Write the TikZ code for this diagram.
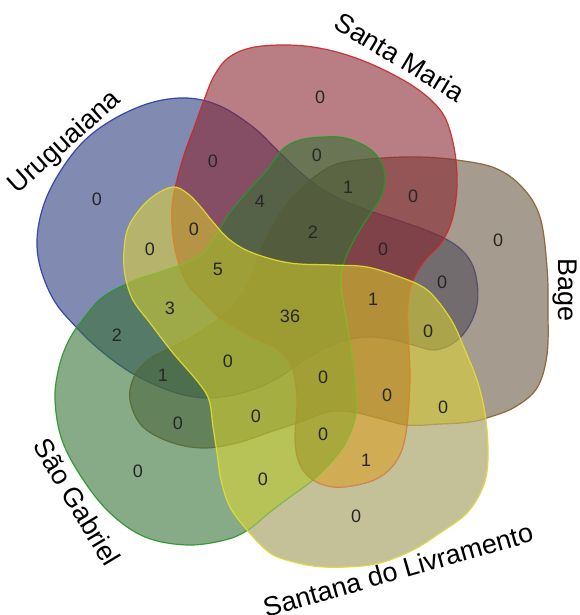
\documentclass[tikz,border=0pt]{standalone}
\usepackage{fontspec}
\setmainfont{Liberation Sans}
\definecolor{ufill}{RGB}{45,60,125}
\definecolor{bfill}{RGB}{105,88,67}
\definecolor{mfill}{RGB}{138,38,50}
\definecolor{gfill}{RGB}{55,113,55}
\definecolor{lfill}{RGB}{232,220,40}
\definecolor{lonly}{RGB}{196,193,152}
\definecolor{uedge}{RGB}{40,60,170}
\definecolor{bedge}{RGB}{140,95,45}
\definecolor{medge}{RGB}{205,40,40}
\definecolor{gedge}{RGB}{40,150,40}
\definecolor{ledge}{RGB}{228,222,50}
\def\Upath{plot[smooth cycle, tension=0.6] coordinates {
(77,328) (55,302) (41,270) (37,240) (43,207) (58,175) (82,143) (112,120) (150,103) (187,98) (220,106) (253,127) (277,150) (300,172) (322,189) (345,201) (370,211) (400,221) (433,233) (457,246) (471,262) (477,282) (477,305) (469,326) (455,342) (435,350) (413,345) (390,339) (365,337) (343,341) (320,351) (300,363) (278,378) (252,390) (222,397) (195,397) (165,389) (130,372) (100,350)}}
\def\Bpath{plot[smooth cycle, tension=0.6] coordinates {
(340,163) (317,175) (300,190) (284,207) (268,235) (257,260) (249,282) (237,301) (220,318) (195,335) (170,348) (148,360) (134,377) (130,400) (142,426) (170,442) (203,448) (237,443) (270,432) (300,422) (328,412) (352,412) (378,418) (407,425) (440,424) (470,422) (490,417) (515,407) (537,388) (547,355) (548,310) (547,267) (540,217) (522,187) (495,168) (457,160) (420,157) (383,158)}}
\def\Mpath{plot[smooth cycle, tension=0.6] coordinates {
(280,45) (250,48) (228,58) (214,76) (204,100) (195,125) (185,152) (177,180) (172,207) (173,237) (179,265) (188,285) (203,301) (220,318) (250,336) (278,350) (292,368) (297,400) (295,440) (300,465) (313,480) (333,487) (357,485) (380,477) (397,460) (406,433) (410,380) (408,330) (408,305) (413,280) (425,260) (441,243) (452,220) (457,187) (455,153) (447,122) (435,104) (413,86) (380,68) (347,55) (313,47)}}
\def\Gpath{plot[smooth cycle, tension=0.6] coordinates {
(323,137) (345,138) (367,147) (380,160) (385,177) (381,197) (368,217) (354,240) (344,263) (341,285) (348,330) (355,380) (356,413) (347,440) (333,460) (313,480) (290,497) (270,512) (248,530) (225,540) (187,545) (145,537) (110,513) (82,478) (62,440) (55,400) (59,367) (69,340) (84,318) (103,297) (133,281) (160,272) (193,260) (207,249) (220,228) (231,211) (248,191) (267,170) (283,149) (300,140)}}
\def\Lpath{plot[smooth cycle, tension=0.6] coordinates {
(173,187) (187,193) (200,206) (213,222) (230,240) (253,253) (290,263) (333,265) (367,267) (400,277) (423,287) (437,300) (453,323) (465,350) (478,383) (486,420) (488,460) (483,487) (467,513) (440,533) (413,550) (380,563) (347,567) (313,566) (280,558) (265,549) (247,530) (230,507) (221,480) (217,453) (213,427) (209,400) (198,382) (173,353) (150,323) (133,300) (125,275) (124,250) (128,228) (140,209) (155,195)}}
\begin{document}
\begin{tikzpicture}[x=1pt,y=-1pt,
  setshape/.style={fill=#1, fill opacity=0.6, draw opacity=0.9, line width=1.2pt},
  dimedge/.style={draw=#1, draw opacity=0.45, line width=1.2pt},
  num/.style={font=\fontsize{18}{18}\selectfont, text=black!85, inner sep=0pt},
  lab/.style={font=\fontsize{27}{27}\selectfont, inner sep=0pt}]
\useasboundingbox (0,0) rectangle (579,615);
% Uruguaiana (blue)
\path[setshape=ufill, draw=uedge] \Upath;
% Bage (brown)
\path[setshape=bfill, draw=bedge] \Bpath;
% Santa Maria (red)
\path[setshape=mfill, draw=medge] \Mpath;
% Sao Gabriel (green)
\path[setshape=gfill, draw=gedge] \Gpath;
% Santana do Livramento (yellow)
\path[setshape=lfill, fill opacity=0.5, draw=ledge] \Lpath;
% region of Santana do Livramento alone
\begin{scope}[even odd rule]
  \clip \Lpath;
  \clip (-60,-60) rectangle (660,680) \Upath;
  \clip (-60,-60) rectangle (660,680) \Bpath;
  \clip (-60,-60) rectangle (660,680) \Mpath;
  \clip (-60,-60) rectangle (660,680) \Gpath;
  \fill[lonly] (0,0) rectangle (579,615);
  \path[dimedge=bedge] \Bpath;
  \path[dimedge=medge] \Mpath;
  \path[dimedge=gedge] \Gpath;
  \path[draw=ledge, draw opacity=0.9, line width=1.2pt] \Lpath;
\end{scope}
% counts
\node[num] (n1) at (320,97) {0};
\node[num] (n2) at (213,161) {0};
\node[num] (n3) at (317,155) {0};
\node[num] (n4) at (348,187) {1};
\node[num] (n5) at (413,196) {0};
\node[num] (n6) at (498,240) {0};
\node[num] (n7) at (97,199) {0};
\node[num] (n8) at (260,201) {4};
\node[num] (n9) at (313,232) {2};
\node[num] (n10) at (194,229) {0};
\node[num] (n11) at (150,249) {0};
\node[num] (n12) at (383,249) {0};
\node[num] (n13) at (218,269) {5};
\node[num] (n14) at (442,282) {0};
\node[num] (n15) at (170,308) {3};
\node[num] (n16) at (290,316) {36};
\node[num] (n17) at (373,299) {1};
\node[num] (n18) at (117,335) {2};
\node[num] (n19) at (428,331) {0};
\node[num] (n20) at (163,375) {1};
\node[num] (n21) at (228,361) {0};
\node[num] (n22) at (323,377) {0};
\node[num] (n23) at (387,395) {0};
\node[num] (n24) at (443,407) {0};
\node[num] (n25) at (178,423) {0};
\node[num] (n26) at (256,416) {0};
\node[num] (n27) at (323,434) {0};
\node[num] (n28) at (138,471) {0};
\node[num] (n29) at (366,460) {1};
\node[num] (n30) at (263,479) {0};
\node[num] (n31) at (356,516) {0};
% set labels
\node[lab, rotate=42] (lu) at (65,143) {Uruguaiana};
\node[lab, rotate=-31] (lm) at (400,57) {Santa Maria};
\node[lab, rotate=-90, anchor=base] (lb) at (558,290) {Bage};
\node[lab, rotate=-59] (lg) at (77,502) {São Gabriel};
\node[lab, rotate=16] (ll) at (398,570) {Santana do Livramento};
\end{tikzpicture}
\end{document}
